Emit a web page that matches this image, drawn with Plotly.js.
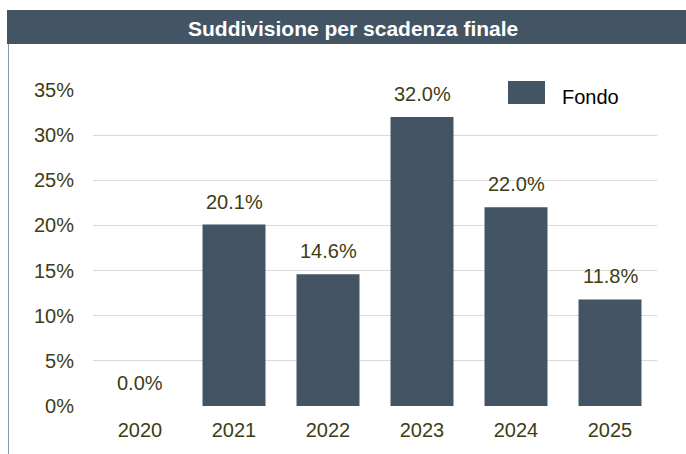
<!DOCTYPE html>
<html><head><meta charset="utf-8">
<script src="https://cdn.plot.ly/plotly-3.0.1.min.js"></script>
<style>html,body{margin:0;padding:0;background:#fff}#c{width:686px;height:454px}</style>
</head><body><div id="c"></div>
<script>
const categories = ['2020','2021','2022','2023','2024','2025'];
const fondo = [0.0, 20.1, 14.6, 32.0, 22.0, 11.8];
const yTickVals = [0,5,10,15,20,25,30,35];
const yTickText = ['0%','5%','10%','15%','20%','25%','30%','35%'];
const seriesName = 'Fondo';
const chartTitle = 'Suddivisione per scadenza finale';

const barColor = '#435564';
const textColor = '#3d3d14';
const font = 'Liberation Sans, Arial, sans-serif';

const L=93, R=29, T=90, B=48, W=686, H=454;
const pw = W-L-R, ph = H-T-B;
const px = v => (v-L)/pw;
const py = v => (H-B-v)/ph;

const annotations = categories.map((c,i)=>({
  x:i, y:fondo[i], xref:'x', yref:'y', text:fondo[i].toFixed(1)+'%',
  showarrow:false, yanchor:'bottom', yshift:10,
  font:{family:font, size:20, color:textColor}
}));
annotations.push({
  xref:'paper', yref:'paper', x:px(353), y:py(28), text:'<b>'+chartTitle+'</b>',
  showarrow:false, xanchor:'center', yanchor:'middle',
  font:{family:font, size:21, color:'#ffffff'}
});
annotations.push({
  xref:'paper', yref:'paper', x:px(560), y:py(97), text:seriesName,
  showarrow:false, xanchor:'left', yanchor:'middle',
  font:{family:font, size:20, color:'#000000'}
});

const shapes = [
  {type:'rect', xref:'paper', yref:'paper', x0:px(7), x1:px(686), y0:py(44), y1:py(10),
   fillcolor:'#435564', line:{width:0}, layer:'above'},
  {type:'line', xref:'paper', yref:'paper', x0:px(8.5), x1:px(8.5), y0:py(44), y1:py(454),
   line:{color:'#8a99a8', width:1}},
  {type:'rect', xref:'paper', yref:'paper', x0:px(508), x1:px(545), y0:py(104), y1:py(81),
   fillcolor:barColor, line:{width:0}, layer:'above'}
];

Plotly.newPlot('c', [{
  type:'bar', x:categories, y:fondo, name:seriesName,
  marker:{color:barColor}, hoverinfo:'none'
}], {
  width:W, height:H,
  margin:{l:L, r:R, t:T, b:B, pad:0},
  paper_bgcolor:'#fff', plot_bgcolor:'#fff',
  showlegend:false, bargap:0.33,
  font:{family:font, size:20, color:textColor},
  xaxis:{type:'category', range:[-0.5, categories.length-0.5], showgrid:false, zeroline:false, showline:false, ticks:'',
    tickfont:{family:font, size:20, color:textColor}, ticklabelstandoff:10},
  yaxis:{range:[0,35], tickvals:yTickVals, ticktext:yTickText, showgrid:true,
    gridcolor:'#d9d9d9', gridwidth:1, zeroline:false, showline:false, ticks:'',
    tickfont:{family:font, size:20, color:textColor}, ticklabelstandoff:18},
  annotations, shapes
}, {staticPlot:true, displayModeBar:false});
</script></body></html>
